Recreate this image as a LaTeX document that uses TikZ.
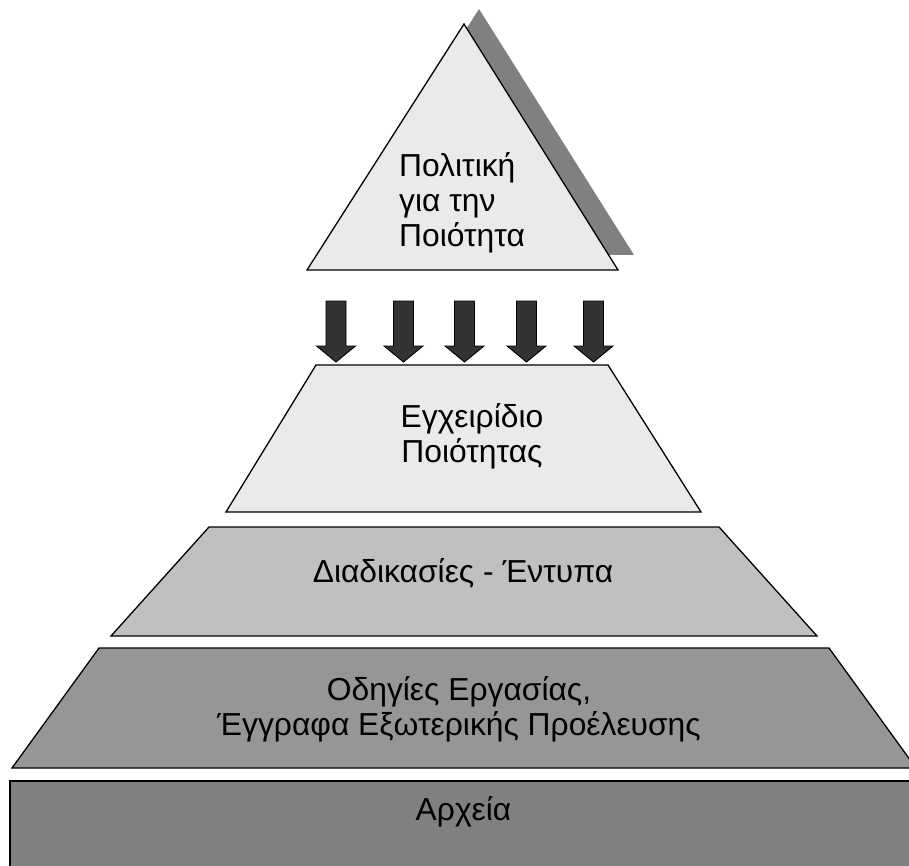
\documentclass[tikz,border=0pt]{standalone}
\usepackage{fontspec}
\setmainfont{Liberation Sans}
\begin{document}
\begin{tikzpicture}[x=1pt,y=-1pt,
  layer/.style={draw=black,line width=1.3pt,line join=miter},
  label/.style={inner sep=0pt,font=\fontsize{31.8}{35}\selectfont,align=center,anchor=base},
  downarrow/.style={draw=black,line width=0.9pt,fill=arrowgrey,line join=miter}]
\definecolor{palegrey}{HTML}{EAEAEA}
\definecolor{lightgrey}{HTML}{C0C0C0}
\definecolor{midgrey}{HTML}{969696}
\definecolor{darkgrey}{HTML}{808080}
\definecolor{arrowgrey}{HTML}{333333}
\useasboundingbox (0,0) rectangle (909,866);
\clip (0,0) rectangle (909,866);

% shadow behind the top triangle
\fill[darkgrey] (479,9) -- (322,255) -- (634,255) -- cycle;
% top triangle
\draw[layer,fill=palegrey] (464,24) -- (307,270) -- (618,270) -- cycle;
\node[label,align=left,anchor=base west] (policy) at (399,247)
  {Πολιτική\\για την\\Ποιότητα};

% five block arrows pointing down
\foreach \cx [count=\i] in {336,403.5,464.5,526.5,593.5}{
  \draw[downarrow] (\cx-10,301) -- (\cx+10,301) -- (\cx+10,346) -- (\cx+19.5,346)
    -- (\cx,362) -- (\cx-19.5,346) -- (\cx-10,346) -- cycle;
}

% quality manual
\draw[layer,fill=palegrey] (316,365) -- (608,365) -- (701,512) -- (226,512) -- cycle;
\node[label] (manual) at (472,462) {Εγχειρίδιο\\Ποιότητας};

% procedures and forms
\draw[layer,fill=lightgrey] (209,527) -- (719,527) -- (817,636) -- (111,636) -- cycle;
\node[label] (procedures) at (463,582) {Διαδικασίες - Έντυπα};

% work instructions
\draw[layer,fill=midgrey] (99,648) -- (829,648) -- (916,768) -- (12,768) -- cycle;
\node[label] (instructions) at (459,735) {Οδηγίες Εργασίας,\\Έγγραφα Εξωτερικής Προέλευσης};

% records
\draw[layer,fill=darkgrey] (10,781) rectangle (918,880);
\node[label] (records) at (463.5,820) {Αρχεία};
\end{tikzpicture}
\end{document}
